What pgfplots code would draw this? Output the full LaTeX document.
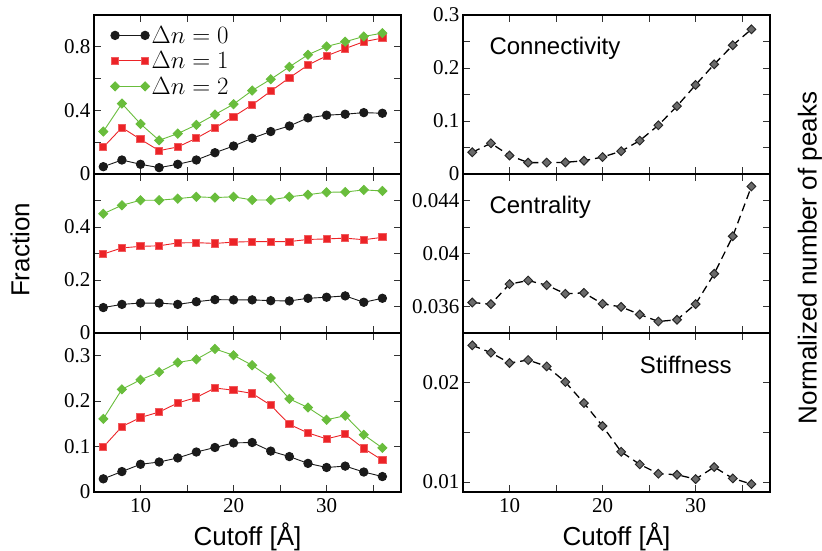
\documentclass[border=0pt]{standalone}
\usepackage{fontspec}
\setmainfont{Liberation Serif}
\setsansfont{Liberation Sans}
\newfontfamily\tickfont{Liberation Serif}
\newfontfamily\labfont{Liberation Sans}
\usepackage{pgfplots}
\usepackage{pgfplotstable}
\pgfplotsset{compat=1.18}

\definecolor{cred}{HTML}{EC2327}
\definecolor{cgreen}{HTML}{69BD3C}
\definecolor{cblack}{HTML}{1A1A1A}
\definecolor{cgray}{HTML}{6A6A6A}

% fraction of peaks, one table per panel: x, dn=0, dn=1, dn=2
\pgfplotstableread{
x  d0    d1    d2
6  0.046 0.168 0.267
8  0.088 0.292 0.443
10 0.061 0.218 0.315
12 0.040 0.147 0.212
14 0.061 0.170 0.254
16 0.088 0.225 0.309
18 0.134 0.290 0.374
20 0.176 0.361 0.439
22 0.225 0.435 0.525
24 0.267 0.521 0.596
26 0.302 0.605 0.674
28 0.353 0.685 0.750
30 0.370 0.743 0.802
32 0.376 0.789 0.832
34 0.386 0.832 0.865
36 0.382 0.855 0.886
}\fracconn

\pgfplotstableread{
x  d0    d1    d2
6  0.096 0.298 0.450
8  0.108 0.321 0.482
10 0.113 0.327 0.501
12 0.113 0.329 0.501
14 0.108 0.340 0.507
16 0.118 0.341 0.514
18 0.126 0.338 0.511
20 0.125 0.343 0.514
22 0.125 0.345 0.502
24 0.122 0.345 0.502
26 0.121 0.345 0.514
28 0.131 0.353 0.522
30 0.135 0.355 0.531
32 0.140 0.358 0.532
34 0.116 0.352 0.540
36 0.131 0.361 0.536
}\fraccent

\pgfplotstableread{
x  d0    d1    d2
6  0.029 0.099 0.161
8  0.045 0.144 0.226
10 0.061 0.164 0.247
12 0.066 0.176 0.264
14 0.075 0.196 0.285
16 0.088 0.208 0.292
18 0.098 0.229 0.315
20 0.108 0.224 0.301
22 0.109 0.217 0.279
24 0.090 0.191 0.251
26 0.078 0.149 0.205
28 0.063 0.130 0.186
30 0.054 0.117 0.159
32 0.057 0.127 0.168
34 0.044 0.096 0.126
36 0.034 0.070 0.097
}\fracstiff

% normalized number of peaks
\pgfplotstableread{
x  conn   cent    stiff
6  0.041  0.03630 0.02376
8  0.058  0.03618 0.02302
10 0.035  0.03769 0.02198
12 0.0215 0.03796 0.02228
14 0.0215 0.03761 0.02164
16 0.022  0.03696 0.02007
18 0.025  0.03703 0.01795
20 0.032  0.03620 0.01564
22 0.043  0.03597 0.01305
24 0.063  0.03540 0.01178
26 0.092  0.03487 0.01084
28 0.128  0.03500 0.01074
30 0.168  0.03618 0.01030
32 0.207  0.03847 0.01151
34 0.243  0.04130 0.01037
36 0.273  0.04506 0.00980
}\peaks

\tikzset{lab/.style={font=\labfont\fontsize{24}{28}\selectfont, anchor=west}}

\pgfplotsset{
  panel/.style={
    scale only axis, width=307pt, height=159pt,
    xmin=5, xmax=38,
    xtick={10,20,30}, minor xtick={15,25,35},
    tick align=inside, major tick length=7pt, minor tick length=7pt,
    every tick/.style={line width=0.8pt, black!80},
    axis line style={line width=1.1pt},
    tick label style={font=\tickfont\fontsize{21}{24}\selectfont},
    xticklabel style={yshift=-3pt},
    xlabel style={font=\labfont\fontsize{26}{30}\selectfont},
    scaled ticks=false,
    /pgf/number format/fixed, /pgf/number format/precision=3,
    /pgf/number format/assume math mode=true,
  },
  noxlab/.style={xticklabels={}},
  botx/.style={xlabel={Cutoff [Å]}, xlabel style={yshift=-3pt}},
  s0/.style={cblack, line width=0.9pt, mark=*, mark size=4.2pt, mark options={solid, fill=cblack}},
  s1/.style={cred, line width=0.9pt, mark=square*, mark size=3.6pt, mark options={solid, fill=cred, draw=cred!75!white}},
  s2/.style={cgreen, line width=0.9pt, mark=square*, mark size=3.2pt, mark options={solid, rotate=45, fill=cgreen}},
  pk/.style={black, line width=1.3pt, dash pattern=on 8pt off 5pt, mark=square*, mark size=3.1pt,
    mark options={solid, rotate=45, fill=cgray, draw=black!85, line width=1pt}},
}

\begin{document}
\begin{tikzpicture}
\useasboundingbox (0,0) rectangle (822pt,-551pt);

% left column
\begin{axis}[panel, noxlab, at={(94pt,-15pt)}, anchor=north west,
  ymin=0, ymax=1, ytick={0,0.4,0.8}, minor ytick={0.2,0.6},
  legend style={draw=none, fill=none, at={(0.05,0.95)}, anchor=north west,
    font=\fontsize{23}{23}\selectfont, row sep=3pt, inner sep=1pt},
  legend cell align=left,
  legend image code/.code={\draw[mark repeat=2, mark phase=1, #1] plot coordinates {(0pt,0pt) (15pt,0pt) (30pt,0pt)};},
]
\addplot[s0] table[x=x, y=d0] {\fracconn};
\addlegendentry{$\Delta n = 0$}
\addplot[s1] table[x=x, y=d1] {\fracconn};
\addlegendentry{$\Delta n = 1$}
\addplot[s2] table[x=x, y=d2] {\fracconn};
\addlegendentry{$\Delta n = 2$}
\end{axis}

\begin{axis}[panel, noxlab, at={(94pt,-174pt)}, anchor=north west,
  ymin=0, ymax=0.6, ytick={0,0.2,0.4}, minor ytick={0.1,0.3,0.5}]
\addplot[s0] table[x=x, y=d0] {\fraccent};
\addplot[s1] table[x=x, y=d1] {\fraccent};
\addplot[s2] table[x=x, y=d2] {\fraccent};
\end{axis}

\begin{axis}[panel, botx, at={(94pt,-333pt)}, anchor=north west,
  ymin=0, ymax=0.35, ytick={0,0.1,0.2,0.3}]
\addplot[s0] table[x=x, y=d0] {\fracstiff};
\addplot[s1] table[x=x, y=d1] {\fracstiff};
\addplot[s2] table[x=x, y=d2] {\fracstiff};
\end{axis}

% right column
\begin{axis}[panel, noxlab, at={(463pt,-15pt)}, anchor=north west,
  ymin=0, ymax=0.3, ytick={0,0.1,0.2,0.3}, minor ytick={0.05,0.15,0.25}]
\addplot[pk] table[x=x, y=conn] {\peaks};
\node[lab] at (axis description cs:0.075,0.79) {Connectivity};
\end{axis}

\begin{axis}[panel, noxlab, at={(463pt,-174pt)}, anchor=north west,
  ymin=0.034, ymax=0.046, ytick={0.036,0.04,0.044}, minor ytick={0.038,0.042}]
\addplot[pk] table[x=x, y=cent] {\peaks};
\node[lab] at (axis description cs:0.075,0.79) {Centrality};
\end{axis}

\begin{axis}[panel, botx, at={(463pt,-333pt)}, anchor=north west,
  ymin=0.009, ymax=0.025, ytick={0.01,0.02}, minor ytick={0.015}]
\addplot[pk] table[x=x, y=stiff] {\peaks};
\node[lab] at (axis description cs:0.565,0.80) {Stiffness};
\end{axis}

\node[font=\labfont\fontsize{26}{30}\selectfont, rotate=90] at (20pt,-250pt) {Fraction};
\node[font=\labfont\fontsize{26}{30}\selectfont, rotate=90] at (810pt,-258pt) {Normalized number of peaks};
\end{tikzpicture}
\end{document}
